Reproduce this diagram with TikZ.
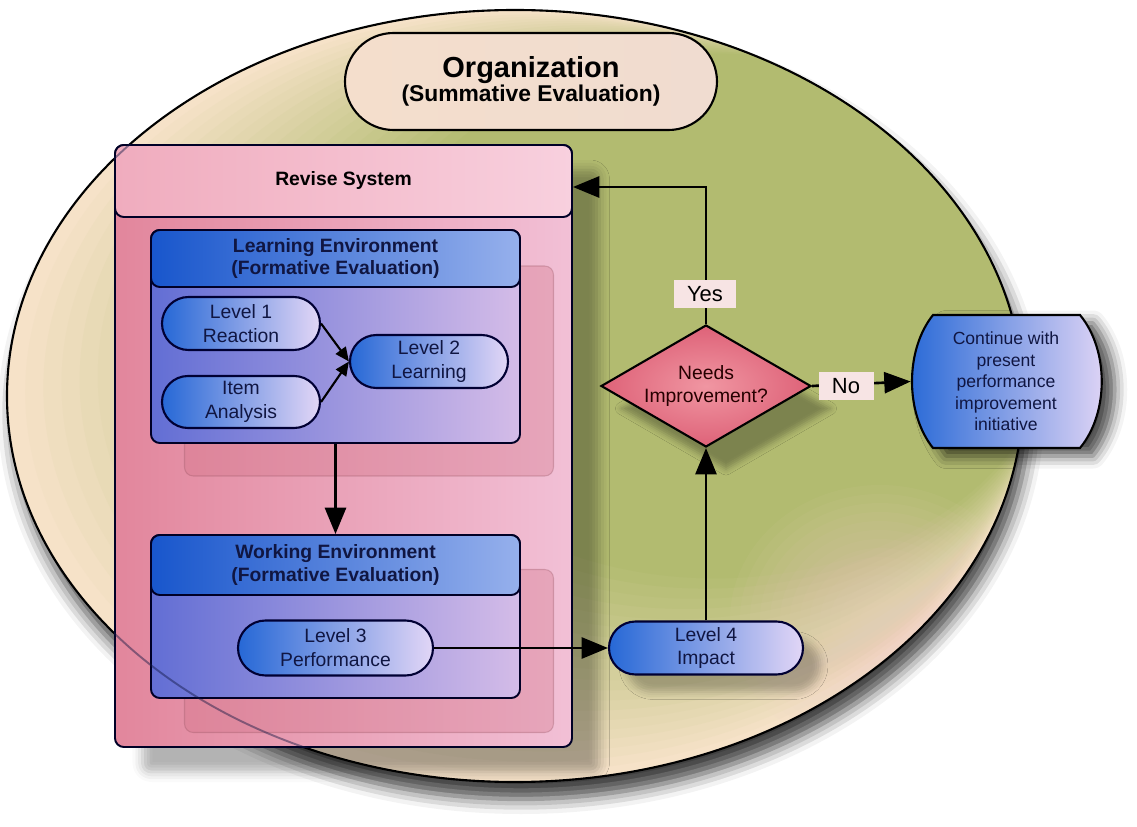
\documentclass[tikz,border=0pt]{standalone}
\usepackage{fontspec}
\setmainfont{Liberation Sans}
\usetikzlibrary{shapes.geometric,shapes.misc,arrows.meta,shadows.blur,calc}

% palette
\definecolor{fieldG}{RGB}{178,187,112}
\definecolor{fieldP}{RGB}{246,226,200}
\definecolor{blush}{RGB}{240,206,196}
\definecolor{navy}{RGB}{16,22,66}
\definecolor{pillL}{RGB}{38,104,214}
\definecolor{pillM}{RGB}{120,148,228}
\definecolor{pillR}{RGB}{226,214,246}
\definecolor{headL}{RGB}{24,86,204}
\definecolor{headR}{RGB}{150,176,236}
\definecolor{bodyL}{RGB}{98,110,212}
\definecolor{bodyR}{RGB}{212,188,232}
\definecolor{roseL}{RGB}{226,134,156}
\definecolor{roseR}{RGB}{242,192,214}
\definecolor{roseHL}{RGB}{240,172,190}
\definecolor{roseHR}{RGB}{248,208,222}
\definecolor{ghost}{RGB}{206,110,130}
\definecolor{diaIn}{RGB}{240,150,162}
\definecolor{diaOut}{RGB}{222,98,120}
\definecolor{tagfill}{RGB}{247,228,228}
\definecolor{orgL}{RGB}{244,222,204}
\definecolor{orgM}{RGB}{216,210,182}
\definecolor{orgR}{RGB}{240,220,208}

\def\pxu{0.02cm}
\newcommand\fs[2]{\fontsize{#1}{#2}\selectfont}

\tikzset{
  bigtip/.style={-{Triangle[length=15pt,width=12pt,fill=black]}},
  edge/.style={draw=black, line width=1.5pt, bigtip},
  minor edge/.style={draw=black, line width=1.2pt, -{Triangle[length=8pt,width=7pt,fill=black]}},
  pill/.style={rounded rectangle, draw=black!80!blue, line width=1.2pt,
    left color=pillL, middle color=pillM, right color=pillR,
    text=navy, font=\fs{11}{13.6}, align=center, inner sep=0pt},
  panel/.style={rectangle, rounded corners=5pt, draw=black!85!blue, line width=1.1pt, inner sep=0pt},
  envhead/.style={panel, left color=headL, right color=headR, text=navy,
    font=\fs{11}{13}\bfseries, align=center},
  envbody/.style={panel, left color=bodyL, right color=bodyR},
  ghostbox/.style={rectangle, rounded corners=5pt, fill=ghost, fill opacity=.3,
    draw=ghost!70!black, draw opacity=.3, line width=.6pt, inner sep=0pt},
  tag/.style={rectangle, fill=tagfill, inner xsep=6pt, inner ysep=0pt,
    minimum height=28*\pxu, font=\fs{12.5}{14}},
  fieldshape/.style={ellipse, minimum width=1016*\pxu, minimum height=772*\pxu, inner sep=0pt},
}

\begin{document}
\begin{tikzpicture}[x=0.02cm, y=-0.02cm]
\useasboundingbox (0,0) rectangle (1137,827);

% the organisation field: base, tinted rim, warm patch, outline
\node[fieldshape, fill=fieldG,
  blur shadow={shadow xshift=0.12cm, shadow yshift=-0.34cm, shadow blur radius=0.3cm,
  shadow opacity=75}] (field) at (515,396) {};
\begin{scope}
  \clip (515,396) ellipse [x radius=10.16cm, y radius=7.72cm];
  \foreach \i in {0,...,20}{
    \pgfmathsetmacro\s{1-0.016*\i}
    \pgfmathsetmacro\cx{515+10*\i}
    \pgfmathsetmacro\cy{396-4*\i}
    \pgfmathtruncatemacro\w{100-5*\i}
    \fill[fieldP!\w!fieldG] (\cx,\cy) ellipse [x radius=\s*10.16cm, y radius=\s*7.72cm];
  }
  \foreach \r in {150,140,...,20}
    \fill[blush, fill opacity=.06] (880,620) ellipse [x radius=\r*\pxu, y radius=0.9*\r*\pxu];
\end{scope}
\node[fieldshape, draw=black, line width=1.2pt] (fieldline) at (field.center) {};

\node[rounded rectangle, draw=black, line width=1.2pt, minimum width=372*\pxu,
  minimum height=97*\pxu, left color=orgL, middle color=orgM, right color=orgR,
  align=center, inner sep=0pt] (orgbox) at (531,81.5)
  {\fs{16.5}{18}\bfseries Organization\\\fs{13}{18}\bfseries (Summative Evaluation)};

% revise system panel
\node[panel, minimum width=457*\pxu, minimum height=602*\pxu, left color=roseL, right color=roseR,
  blur shadow={shadow xshift=0.55cm, shadow yshift=-0.5cm, shadow blur radius=0.2cm,
  shadow opacity=30}] (revise) at (343.5,446) {};
\node[panel, minimum width=457*\pxu, minimum height=72*\pxu, left color=roseHL, right color=roseHR,
  font=\fs{11}{13}\bfseries] (revisehead) at (343.5,181) {Revise System};

\node[ghostbox, minimum width=369*\pxu, minimum height=210*\pxu] (learnghost) at (369,371) {};
\node[ghostbox, minimum width=369*\pxu, minimum height=163*\pxu] (workghost) at (369,651) {};

% learning environment
\node[envbody, minimum width=369*\pxu, minimum height=213*\pxu] (learnbox) at (335.5,336.5) {};
\node[envhead, minimum width=369*\pxu, minimum height=57*\pxu] (learnhead) at (335.5,258.5)
  {Learning Environment\\(Formative Evaluation)};

\node[pill, minimum width=158*\pxu, minimum height=53*\pxu] (lv1) at (241,323.5) {Level 1\\Reaction};
\node[pill, minimum width=158*\pxu, minimum height=52*\pxu] (item) at (241,402) {Item\\Analysis};
\node[pill, minimum width=158*\pxu, minimum height=53*\pxu] (lv2) at (429,361.5) {Level 2\\Learning};
\draw[minor edge] (lv1.east) -- (lv2.west);
\draw[minor edge] (item.east) -- (lv2.west);

% working environment
\node[envbody, minimum width=369*\pxu, minimum height=163*\pxu] (workbox) at (335.5,616.5) {};
\node[envhead, minimum width=369*\pxu, minimum height=60*\pxu] (workhead) at (335.5,565)
  {Working Environment\\(Formative Evaluation)};
\node[pill, minimum width=195*\pxu, minimum height=55*\pxu] (lv3) at (335.5,648) {Level 3\\Performance};

\draw[edge] (learnbox.south) -- (workhead.north);

% field edge seen through the panel
\begin{scope}
  \clip (revise.south west) rectangle (revise.north east);
  \node[fieldshape, draw=navy, draw opacity=.45, line width=1.1pt] (fieldrim) at (field.center) {};
\end{scope}

% impact and decision
\node[pill, minimum width=194*\pxu, minimum height=53*\pxu,
  blur shadow={shadow xshift=0.35cm, shadow yshift=-0.35cm, shadow blur radius=0.15cm,
  shadow opacity=25}] (lv4) at (706,648) {Level 4\\Impact};

\node[diamond, aspect=1.72, minimum width=210*\pxu, minimum height=122*\pxu, inner sep=0pt,
  draw=black, line width=1.2pt, inner color=diaIn, outer color=diaOut,
  align=center, font=\fs{11}{13.6}, text=black!85!red,
  blur shadow={shadow xshift=0.4cm, shadow yshift=-0.45cm, shadow blur radius=0.12cm,
  shadow opacity=30}] (dia) at (706,386) {Needs\\Improvement?};

% continue node with bulging sides
\path[draw=black, line width=1.2pt, left color=pillL, middle color=pillM, right color=pillR,
  blur shadow={shadow xshift=0.26cm, shadow yshift=-0.16cm, shadow blur radius=0.25cm,
  shadow opacity=70}]
  (933,315) -- (1080,315) .. controls (1109,350) and (1109,413) .. (1080,448)
  -- (933,448) .. controls (905,413) and (905,350) .. (933,315) -- cycle;
\node[rectangle, minimum width=190*\pxu, minimum height=133*\pxu, inner sep=0pt,
  align=center, text=navy, font=\fs{10}{12.3}] (cont) at (1006,381.5)
  {Continue with\\present\\performance\\improvement\\initiative};

% connectors
\coordinate (turn) at (706,187);
\draw[edge] (lv3.east) -- (lv4.west);
\draw[edge] (lv4.north) -- (dia.south);
\draw[edge] (dia.north) -- (turn) -- (revisehead.east |- turn);
\draw[edge] (dia.east) -- (cont.west);
\node[tag, minimum width=62*\pxu] (yes) at (705,294) {Yes};
\node[tag, minimum width=55*\pxu] (no) at (846,386) {No};
\end{tikzpicture}
\end{document}
